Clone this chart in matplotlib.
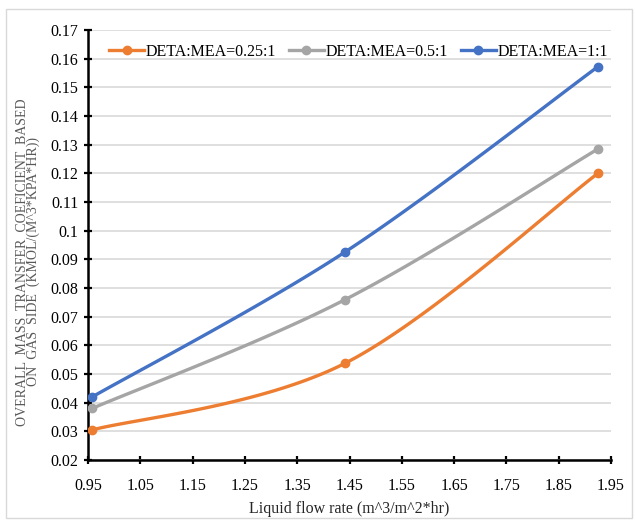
import matplotlib
matplotlib.use('Agg')
import matplotlib.pyplot as plt
import numpy as np
from matplotlib.patches import Rectangle

# flow rates and Kga values for each blend ratio
flow = [0.958, 1.441, 1.925]
kga_025 = [0.0305, 0.0537, 0.1200]
kga_05 = [0.0380, 0.0759, 0.1285]
kga_1 = [0.0420, 0.0925, 0.1572]
labels = ['DETA:MEA=0.25:1', 'DETA:MEA=0.5:1', 'DETA:MEA=1:1']
colors = ['#ED7D31', '#A5A5A5', '#4472C4']

XMIN, XMAX, YMIN, YMAX = 0.95, 1.95, 0.02, 0.17

plt.rcParams['font.family'] = ['Liberation Serif', 'DejaVu Serif']

fig = plt.figure(figsize=(6.35, 5.2), dpi=100)
fig.patch.set_facecolor('white')
fig.add_artist(Rectangle((6/635, 2/520), 626/635, 509/520, transform=fig.transFigure,
                         fill=False, edgecolor='#D9D9D9', lw=1.0))
ax = fig.add_axes([88/635, 60/520, 523/635, 430/520])


def smooth(xs, ys, n=60):
    # bezier smoothing through the points, done in axes-normalised space
    sx = (XMAX - XMIN) / 523
    sy = (YMAX - YMIN) / 430
    p = np.column_stack([np.asarray(xs) / sx, np.asarray(ys) / sy])
    pts = []
    t = np.linspace(0, 1, n)[:, None]
    for i in range(len(p) - 1):
        p0 = p[max(i - 1, 0)]
        p1, p2 = p[i], p[i + 1]
        p3 = p[min(i + 2, len(p) - 1)]
        c1 = p1 + (p2 - p0) / 6
        c2 = p2 - (p3 - p1) / 6
        seg = ((1 - t) ** 3) * p1 + 3 * ((1 - t) ** 2) * t * c1 + 3 * (1 - t) * t ** 2 * c2 + t ** 3 * p2
        pts.append(seg)
    pts = np.vstack(pts)
    return pts[:, 0] * sx, pts[:, 1] * sy


for ys, lab, c in zip([kga_025, kga_05, kga_1], labels, colors):
    cx, cy = smooth(flow, ys)
    ax.plot(cx, cy, color=c, lw=2.4, solid_capstyle='round', zorder=3)
    ax.plot(flow, ys, 'o', color=c, ms=6, zorder=4)
    ax.plot([], [], color=c, lw=2.4, marker='o', ms=6, label=lab)

ax.set_xlim(XMIN, XMAX)
ax.set_ylim(YMIN, YMAX)
ax.set_xticks(np.round(np.arange(0.95, 1.951, 0.1), 2))
ax.set_xticklabels(['0.95', '1.05', '1.15', '1.25', '1.35', '1.45',
                    '1.55', '1.65', '1.75', '1.85', '1.95'])
yt = np.round(np.arange(0.02, 0.1701, 0.01), 2)
ax.set_yticks(yt)
ax.set_yticklabels(['%g' % v for v in yt])
ax.yaxis.grid(True, color='#D9D9D9', lw=1.2)
ax.set_axisbelow(True)

for s in ['top', 'right']:
    ax.spines[s].set_visible(False)
for s in ['left', 'bottom']:
    ax.spines[s].set_linewidth(1.8)
    ax.spines[s].set_color('black')
ax.tick_params(axis='both', direction='inout', length=6, width=1.6,
               labelsize=11.5, colors='black', pad=4)
ax.tick_params(axis='x', pad=10)

ax.set_xlabel('Liquid flow rate (m^3/m^2*hr)', fontsize=11.5, color='#262626', labelpad=5)
fig.text(28/635, 1 - 262/520,
         'OVERALL  MASS  TRANSFER  COEFICIENT  BASED\nON  GAS  SIDE  (KMOL/(M^3*KPA*HR))',
         rotation=90, ha='center', va='center', fontsize=10, color='#595959',
         linespacing=0.85)

ax.legend(loc='center left', bbox_to_anchor=(0.028, 0.949), ncol=3, frameon=False,
          fontsize=11.5, handlelength=2.2, handletextpad=0.1, columnspacing=0.8,
          borderaxespad=0)

fig.savefig('out.png', dpi=100, facecolor='white')
